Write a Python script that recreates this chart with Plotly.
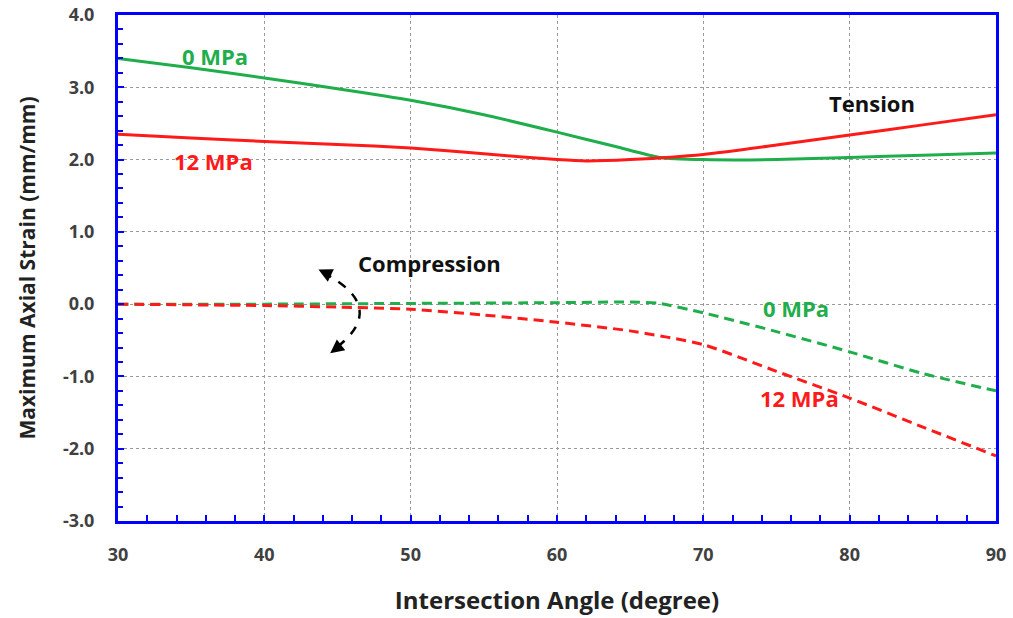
import plotly.graph_objects as go

angle_t0 = [30, 35, 40, 45, 50, 55, 60, 64, 67, 70, 75, 80, 85, 90]
tension_0 = [3.40, 3.27, 3.13, 2.98, 2.82, 2.62, 2.38, 2.18, 2.03, 2.00, 2.00, 2.03, 2.06, 2.09]

angle_t12 = [30, 35, 40, 45, 50, 55, 60, 62, 65, 70, 75, 80, 85, 90]
tension_12 = [2.35, 2.30, 2.25, 2.21, 2.16, 2.08, 2.00, 1.98, 2.00, 2.07, 2.20, 2.34, 2.48, 2.62]

angle_c0 = [30, 40, 50, 60, 65, 67, 70, 75, 80, 85, 90]
compression_0 = [0.00, 0.00, 0.01, 0.02, 0.03, 0.01, -0.12, -0.38, -0.66, -0.96, -1.20]

angle_c12 = [30, 40, 45, 50, 55, 60, 65, 70, 75, 80, 85, 90]
compression_12 = [0.00, -0.02, -0.04, -0.07, -0.15, -0.25, -0.37, -0.56, -0.93, -1.30, -1.70, -2.10]

y_ticks = [4, 3, 2, 1, 0, -1, -2, -3]
y_tick_text = ["4.0", "3.0", "2.0", "1.0", "0.0", "-1.0", "-2.0", "-3.0"]

GREEN = "#1fae4b"
RED = "#ff1a1a"
BLUE = "#0000ff"
FONT = "Open Sans"
DASH = "10px,6px"

fig = go.Figure()
fig.add_trace(go.Scatter(x=angle_t0, y=tension_0, mode="lines",
                         line=dict(color=GREEN, width=3, shape="spline", smoothing=0.6)))
fig.add_trace(go.Scatter(x=angle_t12, y=tension_12, mode="lines",
                         line=dict(color=RED, width=3, shape="spline", smoothing=0.6)))
fig.add_trace(go.Scatter(x=angle_c0, y=compression_0, mode="lines",
                         line=dict(color=GREEN, width=3, dash=DASH, shape="spline", smoothing=0.6)))
fig.add_trace(go.Scatter(x=angle_c12, y=compression_12, mode="lines",
                         line=dict(color=RED, width=3, dash=DASH, shape="spline", smoothing=0.6)))

labels = [
    ("0 MPa", 36.6, 3.43, GREEN),
    ("12 MPa", 36.5, 1.98, RED),
    ("Tension", 81.5, 2.78, "#111111"),
    ("Compression", 51.3, 0.57, "#111111"),
    ("0 MPa", 76.3, -0.06, GREEN),
    ("12 MPa", 76.6, -1.30, RED),
]
for t, x, y, c in labels:
    fig.add_annotation(x=x, y=y, text=t, showarrow=False,
                       font=dict(family=FONT, size=22, color=c, weight="bold"))

# curved dashed double arrow
fig.add_shape(type="path", path="M 44.0,0.44 Q 48.6,-0.05 44.8,-0.62",
              line=dict(color="black", width=2.5, dash="dash"), xref="x", yref="y")
fig.add_annotation(x=43.7, y=0.48, ax=44.5, ay=0.40, xref="x", yref="y", axref="x", ayref="y",
                   text="", showarrow=True, arrowhead=2, arrowsize=1.1, arrowwidth=2.5, arrowcolor="black")
fig.add_annotation(x=44.5, y=-0.68, ax=45.2, ay=-0.57, xref="x", yref="y", axref="x", ayref="y",
                   text="", showarrow=True, arrowhead=2, arrowsize=1.1, arrowwidth=2.5, arrowcolor="black")

fig.update_layout(
    width=1013, height=618,
    margin=dict(l=118, r=17, t=15, b=97),
    plot_bgcolor="white", paper_bgcolor="white",
    showlegend=False,
    font=dict(family=FONT, color="#404040"),
)
fig.update_xaxes(
    range=[30, 90], dtick=10, showline=True, linecolor=BLUE, linewidth=3, mirror=True,
    ticks="inside", ticklen=6, tickcolor=BLUE, tickwidth=2,
    minor=dict(dtick=2, ticks="inside", ticklen=6, tickcolor=BLUE, tickwidth=2),
    showgrid=True, gridcolor="#9a9a9a", griddash="dot", gridwidth=1,
    tickfont=dict(family=FONT, size=18, color="#404040", weight="bold"), ticklabelstandoff=15,
    title=dict(text="Intersection Angle (degree)", font=dict(family=FONT, size=24, color="#222222", weight="bold"), standoff=28),
    zeroline=False, automargin=False,
)
fig.update_yaxes(
    range=[-3, 4], tickvals=y_ticks, ticktext=y_tick_text, showline=True, linecolor=BLUE, linewidth=3, mirror=True,
    ticks="inside", ticklen=6, tickcolor=BLUE, tickwidth=2,
    minor=dict(dtick=0.2, ticks="inside", ticklen=5, tickcolor=BLUE, tickwidth=2),
    showgrid=True, gridcolor="#9a9a9a", griddash="dot", gridwidth=1,
    tickfont=dict(family=FONT, size=18, color="#404040", weight="bold"), ticklabelstandoff=17,
    title=dict(text="Maximum Axial Strain (mm/mm)", font=dict(family=FONT, size=21, color="#222222", weight="bold"), standoff=22),
    zeroline=False, automargin=False,
)

fig.write_html("out.html")
